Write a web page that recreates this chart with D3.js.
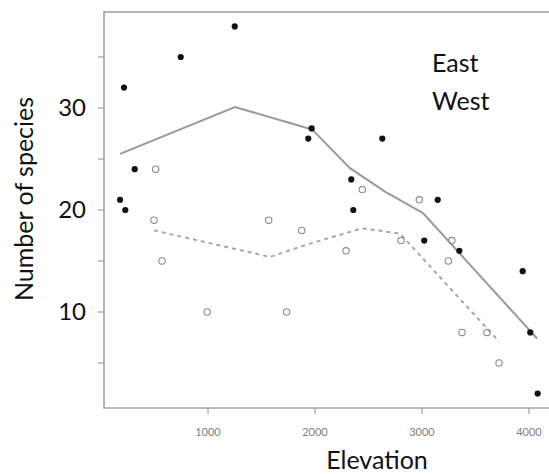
<!DOCTYPE html>
<html><head><meta charset="utf-8">
<script src="https://cdn.jsdelivr.net/npm/d3@7"></script>
<style>body{margin:0;background:#fff}svg{display:block}</style>
</head><body>
<script>
// East (filled points)
const eastElev = [1250, 745, 215, 315, 178, 227, 1969, 1937, 2629, 2339, 2358, 3147, 3021, 3349, 3941, 4012, 4081];
const eastSpecies = [38, 35, 32, 24, 21, 20, 28, 27, 27, 23, 20, 21, 17, 16, 14, 8, 2];
// West (open points)
const westElev = [511, 495, 570, 993, 1735, 1567, 1876, 2290, 2442, 2975, 2804, 3278, 3246, 3374, 3607, 3720];
const westSpecies = [24, 19, 15, 10, 10, 19, 18, 16, 22, 21, 17, 17, 15, 8, 8, 5];
// smoothed trend lines
const eastLineElev = [178, 1252, 1972, 2327, 2654, 3009, 4075];
const eastLineSpecies = [25.5, 30.1, 27.9, 24.1, 21.8, 19.7, 7.4];
const westLineElev = [495, 1579, 1953, 2439, 2794, 3720];
const westLineSpecies = [18.0, 15.4, 16.7, 18.2, 17.7, 7.1];
// ticks
const xTicks = [1000, 2000, 3000, 4000];
const yTicks = [5, 10, 15, 20, 25, 30, 35];
const yTickLabels = [10, 20, 30];
const legendLabels = ["East", "West"];

const W = 549, H = 474;
const svg = d3.select("body").append("svg").attr("width", W).attr("height", H);

const x = d3.scaleLinear().domain([1000, 4000]).range([208, 529]);
const y = d3.scaleLinear().domain([10, 30]).range([312, 108]);

const pLeft = 104, pTop = 12, pBottom = 408, pRight = 552;
const axisColor = "#a0a0a0";
const font = "Lato, 'Open Sans', sans-serif";

// frame
svg.append("path")
  .attr("d", `M${pRight},${pTop}H${pLeft}V${pBottom}H${pRight}`)
  .attr("fill", "none").attr("stroke", axisColor).attr("stroke-width", 1.6);

// y ticks
svg.append("g").selectAll("line").data(yTicks).join("line")
  .attr("x1", pLeft - 6).attr("x2", pLeft)
  .attr("y1", d => y(d)).attr("y2", d => y(d))
  .attr("stroke", axisColor).attr("stroke-width", 1.2);
svg.append("g").selectAll("text").data(yTickLabels).join("text")
  .attr("x", 86).attr("y", d => y(d) + 8)
  .attr("text-anchor", "end")
  .attr("font-family", font).attr("font-size", 24)
  .attr("fill", "#111").text(d => d);

// x ticks
svg.append("g").selectAll("line").data(xTicks).join("line")
  .attr("x1", d => x(d)).attr("x2", d => x(d))
  .attr("y1", pBottom).attr("y2", pBottom + 6)
  .attr("stroke", axisColor).attr("stroke-width", 1.2);
svg.append("g").selectAll("text").data(xTicks).join("text")
  .attr("x", d => x(d)).attr("y", 436)
  .attr("text-anchor", "middle")
  .attr("font-family", font).attr("font-size", 11)
  .attr("fill", "#808080").text(d => d);

// axis titles
svg.append("text").attr("x", 377).attr("y", 469)
  .attr("text-anchor", "middle").attr("font-family", font).attr("font-size", 25)
  .attr("fill", "#111").text("Elevation");
svg.append("text").attr("transform", "translate(33,199) rotate(-90)")
  .attr("text-anchor", "middle").attr("font-family", font).attr("font-size", 25)
  .attr("fill", "#111").text("Number of species");

// legend text
svg.append("g").selectAll("text").data(legendLabels).join("text")
  .attr("x", 432).attr("y", (d, i) => 72 + i * 38)
  .attr("font-family", font).attr("font-size", 25)
  .attr("fill", "#111").text(d => d);

// lines
const east = eastLineElev.map((e, i) => [e, eastLineSpecies[i]]);
const west = westLineElev.map((e, i) => [e, westLineSpecies[i]]);
const line = d3.line().x(d => x(d[0])).y(d => y(d[1]));
svg.append("path").attr("d", line(east))
  .attr("fill", "none").attr("stroke", "#9a9a9a").attr("stroke-width", 2);
svg.append("path").attr("d", line(west))
  .attr("fill", "none").attr("stroke", "#a8a8a8").attr("stroke-width", 2)
  .attr("stroke-dasharray", "4,4");

// points
svg.append("g").selectAll("circle").data(westElev.map((e, i) => [e, westSpecies[i]])).join("circle")
  .attr("cx", d => x(d[0])).attr("cy", d => y(d[1])).attr("r", 3.2)
  .attr("fill", "none").attr("stroke", "#8a8a8a").attr("stroke-width", 1.1);
svg.append("g").selectAll("circle").data(eastElev.map((e, i) => [e, eastSpecies[i]])).join("circle")
  .attr("cx", d => x(d[0])).attr("cy", d => y(d[1])).attr("r", 3.1)
  .attr("fill", "#111");
</script>
</body></html>
